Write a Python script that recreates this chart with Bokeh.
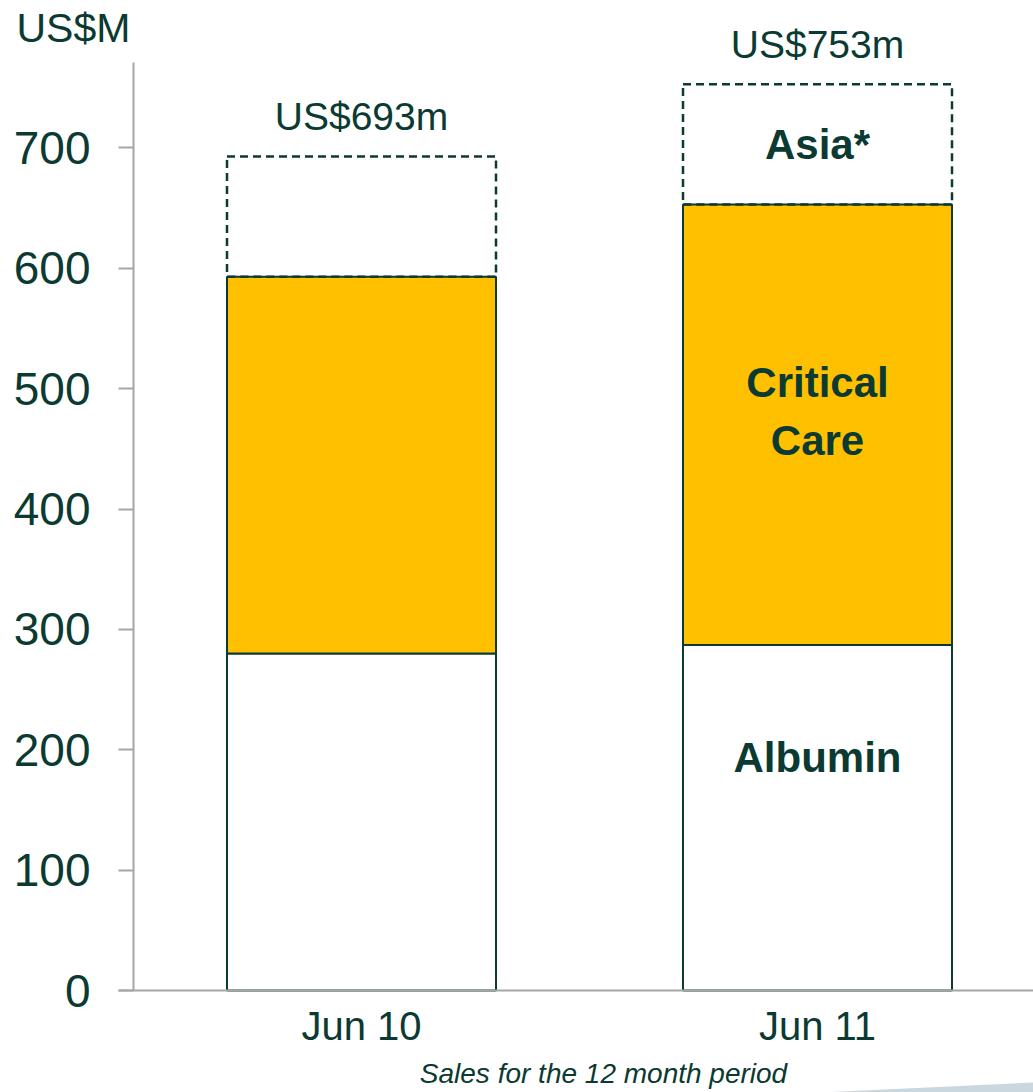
from bokeh.plotting import figure
from bokeh.models import Range1d, FixedTicker, ColumnDataSource, LabelSet, Label
from bokeh.core.properties import value
from bokeh.embed import file_html
from bokeh.resources import INLINE

# ---- data ----
categories = ["Jun 10", "Jun 11"]
albumin = [280, 287]
critical_care = [313, 366]
asia = [100, 100]
totals = [693, 753]
y_ticks = [0, 100, 200, 300, 400, 500, 600, 700]
unit_label = "US$M"
footnote = "Sales for the 12 month period"

# ---- style / layout ----
DARK = "#0B3A32"
GOLD = "#FFC000"
AXIS = "#A6A6A6"
FONT = "Liberation Sans"
W, H = 1033, 1092
AX_X, AX_Y = 133, 990          # pixel position of the axes' origin
PPU_X = 456.0                  # pixels per category step
Y_TOP = 771                    # top of the value axis
PPU_Y = (AX_Y - 62) / Y_TOP    # pixels per unit

x_start = -AX_X / PPU_X
x_end = (W - AX_X) / PPU_X
y_start = -(H - AX_Y) / PPU_Y
y_end = AX_Y / PPU_Y

xs = [i + 0.5 for i in range(len(categories))]
top_cc = [a + c for a, c in zip(albumin, critical_care)]
top_asia = [t + s for t, s in zip(top_cc, asia)]

p = figure(width=W, height=H, output_backend="svg", toolbar_location=None,
           x_range=Range1d(x_start, x_end), y_range=Range1d(y_start, y_end),
           min_border=0)
p.outline_line_color = None
p.grid.grid_line_color = None
p.background_fill_color = "white"
p.border_fill_color = "white"

src = ColumnDataSource(dict(x=xs, alb=albumin, cc_b=albumin, cc_t=top_cc, as_t=top_asia,
                            tot=totals, lab=["US$%dm" % t for t in totals]))

bw = 269 / PPU_X
p.vbar(x="x", width=bw, bottom=0, top="alb", source=src, fill_color="white",
       line_color=DARK, line_width=2)
p.vbar(x="x", width=bw, bottom="cc_b", top="cc_t", source=src, fill_color=GOLD,
       line_color=DARK, line_width=2)
p.vbar(x="x", width=bw, bottom="cc_t", top="as_t", source=src, fill_color=None,
       line_color=DARK, line_width=2.5, line_dash="8 5")

# total labels
p.add_layout(LabelSet(x="x", y="tot", text="lab", source=src, y_offset=26,
                      text_align="center", text_baseline="alphabetic",
                      text_font=value(FONT), text_font_size="39px", text_color=DARK))

# segment labels on the last bar
j = len(categories) - 1
seg = ColumnDataSource(dict(
    x=[xs[j]] * 4,
    y=[top_cc[j] + asia[j] * 0.5,
       albumin[j] + critical_care[j] * 0.597,
       albumin[j] + critical_care[j] * 0.465,
       albumin[j] * 0.675],
    t=["Asia*", "Critical", "Care", "Albumin"]))
p.text(x="x", y="y", text="t", source=seg, text_align="center", text_baseline="middle",
       text_font=value(FONT), text_font_style="bold", text_font_size="42px", text_color=DARK)

# unit label (top-left)
p.add_layout(Label(x=x_start, y=y_end, x_offset=16, y_offset=-27, text=unit_label,
                   text_align="left", text_baseline="alphabetic",
                   text_font=FONT, text_font_size="41px", text_color=DARK))

# footnote
p.add_layout(Label(x=sum(xs) / len(xs), y=0, x_offset=14, y_offset=-83, text=footnote,
                   text_align="center", text_baseline="alphabetic",
                   text_font=FONT, text_font_style="italic", text_font_size="28px",
                   text_color=DARK))

# decorative swoosh (bottom right)
def dx(px):
    return x_start + px / PPU_X

def dy(py):
    return y_end - py / PPU_Y

p.patch(x=[dx(820), dx(1033), dx(1033), dx(820)], y=[dy(1092), dy(1082), dy(1092), dy(1092)],
        fill_color="#C5D3DA", line_color=None, fill_alpha=0.9)

# axes (fixed at the origin, so no side panels)
ya = p.yaxis[0]
ya.fixed_location = 0
ya.bounds = (0, Y_TOP)
ya.ticker = FixedTicker(ticks=y_ticks)
ya.minor_tick_line_color = None
ya.major_tick_out = 15
ya.major_tick_in = 0
ya.major_tick_line_color = AXIS
ya.major_tick_line_width = 2
ya.axis_line_color = AXIS
ya.axis_line_width = 2
ya.major_label_standoff = 28
ya.major_label_text_font = FONT
ya.major_label_text_font_size = "46px"
ya.major_label_text_color = DARK

xa = p.xaxis[0]
xa.fixed_location = 0
xa.bounds = (dx(AX_X - 15), x_end)
xa.ticker = FixedTicker(ticks=xs)
xa.major_label_overrides = {x: c for x, c in zip(xs, categories)}
xa.minor_tick_line_color = None
xa.major_tick_out = 0
xa.major_tick_in = 0
xa.axis_line_color = AXIS
xa.axis_line_width = 2
xa.major_label_standoff = 13
xa.major_label_text_font = FONT
xa.major_label_text_font_size = "40px"
xa.major_label_text_color = DARK

open("out.html", "w").write(file_html(p, INLINE))
